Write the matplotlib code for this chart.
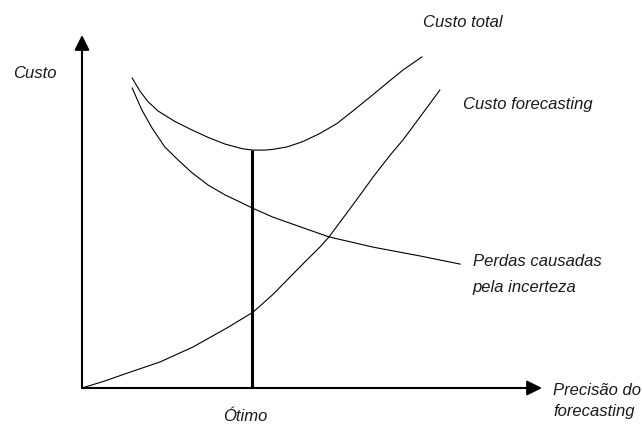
import matplotlib.pyplot as plt

plt.rcParams['font.family'] = ['Liberation Sans', 'DejaVu Sans']

# curves (x = precisao do forecasting, y = custo, both 0..100)
total_x = [10.9, 12.6, 14.3, 16.5, 20.2, 23.9, 27.4, 31.1, 34.8, 37.0, 39.8,
           41.5, 44.6, 48.0, 51.7, 55.4, 58.9, 62.6, 66.3, 69.8, 73.9]
total_y = [87.8, 84.1, 81.2, 78.5, 75.5, 73.1, 71.0, 69.1, 67.8, 67.4, 67.4,
           67.6, 68.3, 69.8, 72.1, 74.9, 78.5, 82.4, 86.4, 90.1, 93.8]

perdas_x = [10.9, 13.0, 15.2, 18.0, 20.9, 23.9, 27.4, 31.1, 34.8, 37.0, 41.5, 48.9, 53.7, 63.3, 73.5, 82.2]
perdas_y = [85.0, 78.8, 73.7, 68.3, 64.6, 61.0, 57.5, 54.7, 52.4, 51.0, 48.4, 45.0, 42.8, 39.9, 37.4, 35.1]

forecast_x = [0, 5.0, 9.8, 17.0, 24.1, 31.5, 37.2, 41.5, 45.2, 48.9, 51.7, 53.7, 56.1,
              59.8, 63.3, 67.0, 69.8, 73.5, 77.8]
forecast_y = [0, 2.0, 4.2, 7.4, 11.6, 17.0, 21.5, 26.5, 31.4, 36.3, 39.9, 42.8, 47.0,
              53.5, 59.8, 66.0, 70.3, 76.8, 84.4]

otimo_x = 37.0
otimo_y = 67.4

fig = plt.figure(figsize=(6.42, 4.24), dpi=100)
ax = fig.add_axes([82 / 642, 36 / 424, 460 / 642, 353 / 424])
ax.set_xlim(0, 100)
ax.set_ylim(0, 100)
ax.axis('off')

# eixos com setas
arrow = dict(arrowstyle='-|>,head_length=0.9,head_width=0.45', lw=1.5, color='black',
             mutation_scale=10, shrinkA=0, shrinkB=0)
ax.annotate('', xy=(0, 100), xytext=(0, 0), arrowprops=arrow, annotation_clip=False)
ax.annotate('', xy=(100, 0), xytext=(0, 0), arrowprops=arrow, annotation_clip=False)

ax.plot(total_x, total_y, color='black', lw=0.8)
ax.plot(perdas_x, perdas_y, color='black', lw=0.8)
ax.plot(forecast_x, forecast_y, color='black', lw=0.8)
ax.plot([otimo_x, otimo_x], [0, otimo_y], color='black', lw=2.2, solid_capstyle='butt')

# textos (posicoes em pixels da figura)
def label(px, py, s):
    fig.text(px / 642, 1 - py / 424, s, fontsize=12, style='italic', color='#1a1a1a',
             ha='left', va='baseline')

label(13, 78, 'Custo')
label(423, 27, 'Custo total')
label(463, 109, 'Custo forecasting')
label(473, 266, 'Perdas causadas')
label(472, 292, 'pela incerteza')
label(553, 395, 'Precisão do')
label(553, 416, 'forecasting')
label(223, 421, 'Ótimo')

fig.savefig('out.png', dpi=100)
